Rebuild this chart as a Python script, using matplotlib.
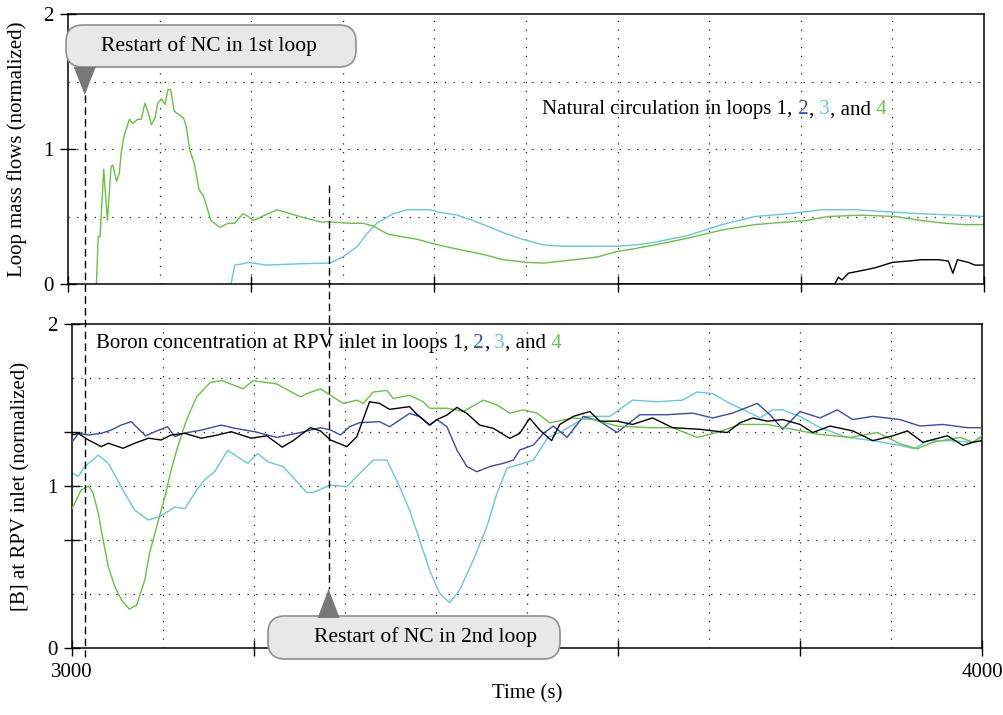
import matplotlib
matplotlib.use("Agg")
import matplotlib.pyplot as plt
from matplotlib.patches import FancyBboxPatch, Polygon
from matplotlib.lines import Line2D
from matplotlib.transforms import blended_transform_factory

plt.rcParams['font.family'] = ['Liberation Serif', 'DejaVu Serif']

# colours of the four loops
C1 = 'black'
C2 = '#3a4aa8'
C3 = '#66c8d8'
C4 = '#6abf45'

# ---- top panel: loop mass flows (normalized) ----
flow4_t = [3031, 3033, 3035, 3039, 3043, 3047, 3049, 3053, 3056, 3058, 3061, 3067,
           3071, 3076, 3080, 3084, 3088, 3091, 3095, 3098, 3102, 3106, 3109, 3112,
           3116, 3120, 3126, 3129, 3133, 3138, 3143, 3148, 3156, 3166, 3175, 3182,
           3191, 3197, 3202, 3228, 3253, 3275, 3286,
           3308, 3322, 3333, 3349, 3365, 3382, 3398, 3417, 3431, 3453, 3475, 3501,
           3519, 3540, 3559, 3578, 3599, 3617, 3641, 3677, 3714, 3750, 3786, 3805,
           3830, 3867, 3903, 3932, 3957, 3979, 4000]
flow4_v = [0.00, 0.35, 0.35, 0.85, 0.47, 0.87, 0.88, 0.76, 0.82, 0.97, 1.09, 1.22,
           1.19, 1.22, 1.22, 1.34, 1.26, 1.18, 1.23, 1.34, 1.37, 1.33, 1.44, 1.44,
           1.28, 1.26, 1.23, 1.17, 0.99, 0.89, 0.70, 0.65, 0.47, 0.42, 0.45, 0.45,
           0.52, 0.50, 0.47, 0.55, 0.50, 0.46, 0.46,
           0.45, 0.45, 0.43, 0.37, 0.35, 0.33, 0.30, 0.27, 0.25, 0.22, 0.18, 0.16,
           0.155, 0.17, 0.185, 0.20, 0.24, 0.26, 0.29, 0.34, 0.40, 0.44, 0.46, 0.47,
           0.50, 0.51, 0.50, 0.47, 0.45, 0.44, 0.44]

flow3_t = [3178, 3182, 3191, 3197, 3217, 3253, 3286, 3300, 3316, 3326, 3337, 3355,
           3370, 3395, 3406, 3425, 3442, 3461, 3479, 3497, 3519, 3540, 3578, 3599,
           3621, 3641, 3677, 3714, 3750, 3786, 3823, 3859, 3895, 3932, 3968, 4000]
flow3_v = [0.00, 0.14, 0.15, 0.16, 0.14, 0.15, 0.155, 0.20, 0.28, 0.37, 0.45, 0.52,
           0.55, 0.55, 0.53, 0.51, 0.47, 0.42, 0.37, 0.33, 0.29, 0.28, 0.28, 0.28,
           0.29, 0.31, 0.36, 0.44, 0.50, 0.52, 0.55, 0.55, 0.535, 0.52, 0.51, 0.50]

flow1_t = [3600, 3837, 3841, 3845, 3852, 3867, 3881, 3900, 3917, 3932, 3950, 3961,
           3966, 3971, 3983, 3990, 4000]
flow1_v = [0.00, 0.00, 0.05, 0.03, 0.08, 0.10, 0.12, 0.16, 0.17, 0.18, 0.18, 0.17,
           0.08, 0.18, 0.16, 0.14, 0.14]

# ---- bottom panel: boron concentration at RPV inlet (normalized) ----
boron4_t = [3000, 3010, 3018, 3023, 3029, 3032, 3040, 3047, 3054, 3063, 3071, 3080,
            3085, 3095, 3102, 3109, 3116, 3126, 3137, 3152, 3165, 3188, 3199, 3225,
            3251, 3258, 3273, 3284, 3298, 3313, 3320, 3331, 3346, 3353, 3371, 3386,
            3393, 3412, 3430, 3452, 3467, 3481, 3496, 3511, 3525, 3551, 3573, 3599,
            3635, 3660, 3687, 3709, 3734, 3764, 3792, 3819, 3855, 3885, 3910, 3929,
            3946, 3976, 3990, 4000]
boron4_v = [0.86, 0.975, 1.00, 0.96, 0.83, 0.73, 0.50, 0.38, 0.30, 0.24, 0.265, 0.42,
            0.58, 0.79, 0.93, 1.10, 1.24, 1.41, 1.55, 1.64, 1.65, 1.60, 1.65, 1.63,
            1.55, 1.57, 1.60, 1.56, 1.51, 1.53, 1.51, 1.58, 1.59, 1.54, 1.56, 1.52,
            1.48, 1.48, 1.46, 1.53, 1.50, 1.45, 1.47, 1.45, 1.39, 1.42, 1.41, 1.37,
            1.36, 1.36, 1.30, 1.33, 1.38, 1.38, 1.35, 1.32, 1.30, 1.33, 1.26, 1.23,
            1.27, 1.30, 1.27, 1.31]

boron3_t = [3000, 3007, 3014, 3029, 3040, 3054, 3069, 3084, 3096, 3113, 3124, 3137,
            3146, 3157, 3171, 3182, 3193, 3204, 3215, 3232, 3258, 3265, 3284, 3302,
            3313, 3331, 3346, 3360, 3371, 3382, 3393, 3404, 3415, 3426, 3441, 3456,
            3467, 3478, 3496, 3507, 3523, 3536, 3566, 3591,
            3616, 3643, 3671, 3687, 3704, 3723, 3742, 3756, 3770, 3781, 3800, 3822,
            3852, 3880, 3910, 3926, 3940, 3965, 3990, 4000]
boron3_v = [1.08, 1.06, 1.12, 1.19, 1.14, 0.995, 0.85, 0.79, 0.81, 0.87, 0.86, 0.975,
            1.04, 1.09, 1.22, 1.18, 1.14, 1.20, 1.15, 1.12, 0.96, 0.96, 1.006, 0.996,
            1.06, 1.16, 1.16, 0.996, 0.85, 0.667, 0.48, 0.337, 0.28, 0.358, 0.543, 0.75,
            0.955, 1.11, 1.14, 1.16, 1.30, 1.33, 1.43, 1.43,
            1.53, 1.52, 1.53, 1.58, 1.57, 1.51, 1.46, 1.42, 1.47, 1.47, 1.43, 1.36,
            1.30, 1.28, 1.25, 1.23, 1.28, 1.28, 1.27, 1.30]

boron2_t = [3000, 3007, 3018, 3032, 3043, 3054, 3065, 3081, 3091, 3105, 3113, 3122,
            3142, 3164, 3179, 3201, 3225, 3251, 3273, 3284, 3295, 3305, 3316, 3338,
            3349, 3360, 3371, 3382, 3393, 3401, 3412, 3423, 3434, 3445, 3459, 3474,
            3485, 3492, 3507, 3518, 3529, 3544, 3562, 3580, 3599, 3624, 3654,
            3682, 3704, 3726, 3753, 3767, 3781, 3800, 3822, 3841, 3858, 3880, 3910,
            3932, 3957, 3984, 4000]
boron2_v = [1.27, 1.325, 1.315, 1.325, 1.345, 1.376, 1.397, 1.31, 1.335, 1.366, 1.305, 1.325,
            1.345, 1.376, 1.356, 1.335, 1.30, 1.33, 1.36, 1.346, 1.315, 1.366, 1.391, 1.397,
            1.366, 1.407, 1.448, 1.428, 1.376, 1.41, 1.366, 1.222, 1.12, 1.088, 1.12, 1.14,
            1.16, 1.222, 1.253, 1.325, 1.37, 1.30, 1.43, 1.40, 1.33, 1.44, 1.44,
            1.45, 1.42, 1.45, 1.51, 1.44, 1.35, 1.46, 1.42, 1.47, 1.41, 1.43, 1.41,
            1.37, 1.38, 1.36, 1.36]

boron1_t = [3000, 3007, 3018, 3025, 3032, 3040, 3056, 3069, 3084, 3098, 3109, 3124,
            3142, 3160, 3175, 3197, 3214, 3231, 3243, 3262, 3273, 3284, 3302, 3313,
            3327, 3338, 3349, 3371, 3378, 3393, 3401, 3412, 3423, 3434, 3448, 3463,
            3481, 3492, 3503, 3514, 3527, 3536, 3551, 3569, 3580, 3599, 3616, 3638,
            3660, 3690, 3720, 3734, 3748, 3764, 3781, 3800, 3814, 3833, 3858, 3880,
            3902, 3918, 3935, 3962, 3979, 3990, 4000]
boron1_v = [1.315, 1.325, 1.284, 1.264, 1.243, 1.264, 1.233, 1.264, 1.295, 1.284, 1.315, 1.325,
            1.295, 1.315, 1.335, 1.295, 1.31, 1.24, 1.28, 1.36, 1.34, 1.284, 1.243, 1.305,
            1.52, 1.51, 1.473, 1.49, 1.448, 1.376, 1.41, 1.438, 1.485, 1.448, 1.376, 1.356,
            1.294, 1.325, 1.418, 1.346, 1.28, 1.38, 1.43, 1.46, 1.40, 1.40, 1.38, 1.42,
            1.36, 1.35, 1.33, 1.39, 1.42, 1.40, 1.41, 1.38, 1.33, 1.37, 1.34, 1.28,
            1.31, 1.34, 1.27, 1.31, 1.25, 1.27, 1.28]

restart_times = [3014, 3282]
x_ticks = [3000, 3200, 3400, 3600, 3800, 4000]
x_grid = [3100, 3200, 3300, 3400, 3500, 3600, 3700, 3800, 3900]

W, H = 1004, 715
fig = plt.figure(figsize=(W / 100, H / 100), dpi=100)


def px_axes(l, t, r, b):
    return fig.add_axes([l / W, 1 - b / H, (r - l) / W, (b - t) / H])


ax1 = px_axes(68, 14, 984, 284)
ax2 = px_axes(72, 324, 982, 648)

dot = dict(color='#222222', lw=0.9, ls=(0, (1, 6)), zorder=0)
LW = 1.0

# top panel
ax1.plot(flow1_t, flow1_v, color=C1, lw=LW)
ax1.plot(flow3_t, flow3_v, color=C3, lw=LW)
ax1.plot(flow4_t, flow4_v, color=C4, lw=LW)
ax1.set_ylim(0, 2)
for gx in x_grid:
    ax1.axvline(gx, **dot)
for gy in [0.5, 1.0, 1.5]:
    ax1.axhline(gy, **dot)
ax1.set_yticks([0, 1, 2])
ax1.set_yticklabels(['0', '1', '2'])
ax1.set_ylabel('Loop mass flows (normalized)', fontsize=15)
ax1.yaxis.set_label_coords(-0.045, 0.5)

# bottom panel
ax2.plot(boron1_t, boron1_v, color=C1, lw=LW, zorder=4)
ax2.plot(boron2_t, boron2_v, color=C2, lw=LW, zorder=3)
ax2.plot(boron3_t, boron3_v, color=C3, lw=LW, zorder=2)
ax2.plot(boron4_t, boron4_v, color=C4, lw=LW, zorder=3)
ax2.set_ylim(0, 2)
for gx in x_grid:
    ax2.axvline(gx, **dot)
for gy in [1 / 3, 2 / 3, 1.0, 4 / 3, 5 / 3]:
    ax2.axhline(gy, **dot)
ax2.set_yticks([0, 2 / 3, 1, 4 / 3, 2])
ax2.set_yticklabels(['0', '', '1', '', '2'])
ax2.set_ylabel('[B] at RPV inlet (normalized)', fontsize=15)
ax2.yaxis.set_label_coords(-0.046, 0.5)
ax2.set_xlabel('Time (s)', fontsize=15, labelpad=2)

for ax in (ax1, ax2):
    ax.set_xlim(3000, 4000)
    ax.set_xticks(x_ticks)
    ax.tick_params(direction='inout', length=11, width=1.0, labelsize=15, pad=5)
    for sp in ax.spines.values():
        sp.set_linewidth(1.1)
ax1.set_xticklabels([''] * len(x_ticks))
ax2.set_xticklabels(['3000', '', '', '', '', '4000'])


def colored_text(ax, x, y, parts, size):
    t = ax.text(x, y, parts[0][0], color=parts[0][1], fontsize=size,
                ha='left', va='center')
    for s, c in parts[1:]:
        t = ax.annotate(s, xy=(1, 0), xycoords=t, color=c, fontsize=size,
                        ha='left', va='bottom')


colored_text(ax1, 3518, 1.29,
             [('Natural circulation in loops 1,', C1), (' 2', C2), (',', C1),
              (' 3', C3), (', and', C1), (' 4', C4)], 15)
colored_text(ax2, 3026, 1.88,
             [('Boron concentration at RPV inlet in loops 1,', C1), (' 2', C2),
              (',', C1), (' 3', C3), (', and', C1), (' 4', C4)], 15)

# restart markers: dashed lines, pointers and rounded callouts
tr = blended_transform_factory(ax2.transData, fig.transFigure)
dash_spans = [(95, 657), (185, 589)]
for t_r, (y0, y1) in zip(restart_times, dash_spans):
    fig.add_artist(Line2D([t_r, t_r], [1 - y0 / H, 1 - y1 / H], transform=tr,
                          color='black', lw=1.0, dashes=(5.5, 3)))


def inch(xp, yp):
    return (xp / 100, (H - yp) / 100)


def callout(l, t, r, b, text, tx, tri_x, tri_base, tri_tip):
    box = FancyBboxPatch(inch(l, b), (r - l) / 100, (b - t) / 100,
                         boxstyle='round,pad=0,rounding_size=0.17',
                         transform=fig.dpi_scale_trans, fc='#e8e8e8',
                         ec='#8f8f8f', lw=1.2)
    fig.add_artist(box)
    tri = Polygon([inch(tri_x - 11, tri_base), inch(tri_x + 11, tri_base),
                   inch(tri_x, tri_tip)], closed=True,
                  transform=fig.dpi_scale_trans, fc='#787878', ec='none')
    fig.add_artist(tri)
    cx, cy = inch(tx, (t + b) / 2)
    fig.text(cx, cy, text, transform=fig.dpi_scale_trans, fontsize=15.5,
             ha='center', va='center')


x_r1 = ax2.transData.transform((restart_times[0], 0))[0]
x_r2 = ax2.transData.transform((restart_times[1], 0))[0]
callout(66, 25, 356, 67, 'Restart of NC in 1st loop', 209, x_r1, 67, 95)
callout(268, 616, 560, 659, 'Restart of NC in 2nd loop', 425, x_r2, 618, 589)

fig.savefig('out.png', dpi=100)
